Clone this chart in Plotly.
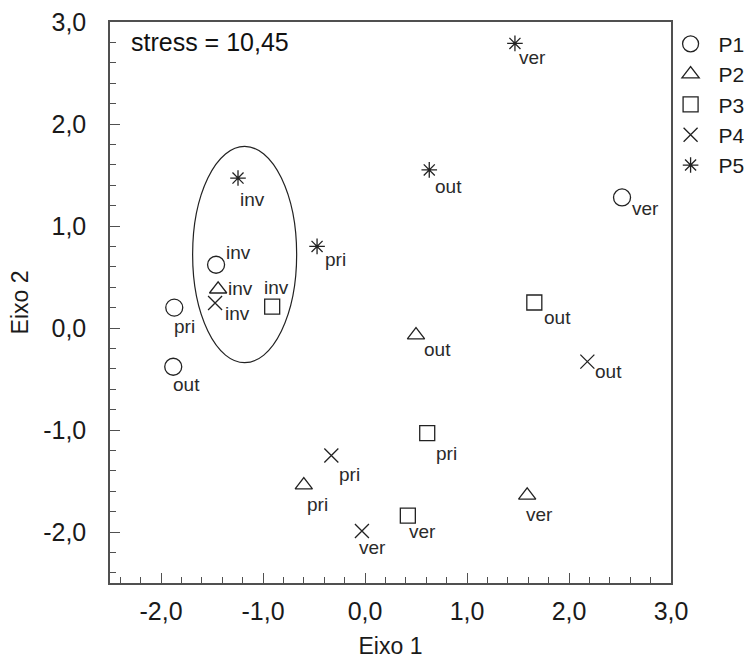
import plotly.graph_objects as go

# ---- data ----
labels = ["inv", "pri", "out", "ver"]
series = ["P1", "P2", "P3", "P4", "P5"]
p1_x = [-1.46, -1.87, -1.88, 2.52]
p1_y = [0.62, 0.20, -0.38, 1.28]
p2_x = [-1.44, -0.60, 0.50, 1.59]
p2_y = [0.38, -1.54, -0.07, -1.64]
p3_x = [-0.91, 0.61, 1.66, 0.42]
p3_y = [0.21, -1.03, 0.25, -1.84]
p4_x = [-1.47, -0.33, 2.18, -0.03]
p4_y = [0.245, -1.25, -0.33, -1.99]
p5_x = [-1.245, -0.47, 0.63, 1.47]
p5_y = [1.47, 0.80, 1.55, 2.79]
stress_text = "stress = 10,45"
x_ticks = [-2.0, -1.0, 0.0, 1.0, 2.0, 3.0]
y_ticks = [-2.0, -1.0, 0.0, 1.0, 2.0, 3.0]
x_ticktext = ["-2,0", "-1,0", "0,0", "1,0", "2,0", "3,0"]
y_ticktext = ["-2,0", "-1,0", "0,0", "1,0", "2,0", "3,0"]

# ---- styles ----
xs = [p1_x, p2_x, p3_x, p4_x, p5_x]
ys = [p1_y, p2_y, p3_y, p4_y, p5_y]
symbols = ["circle-open", "triangle-up-open", "square-open", "x-thin-open", "asterisk-open"]
sizes = [17, 15, 15, 14, 13]
label_offsets = [
    [(22, -12), (10, 19), (13, 18), (23, 11)],
    [(22, -1), (14, 19), (21, 14), (12, 19)],
    [(4, -19), (19, 20), (23, 15), (15, 16)],
    [(22, 10), (18, 19), (21, 10), (11, 17)],
    [(14, 21), (18, 13), (19, 17), (18, 14)],
]
FONT = "Liberation Sans, Arial, sans-serif"
ink = "#222222"

fig = go.Figure()
annotations = []
for i, name in enumerate(series):
    fig.add_trace(go.Scatter(
        x=xs[i], y=ys[i], mode="markers", name=name,
        marker=dict(symbol=symbols[i], size=sizes[i], color=ink,
                    line=dict(color=ink, width=1.3)),
        hoverinfo="skip",
    ))
    for j, lab in enumerate(labels):
        dx, dy = label_offsets[i][j]
        annotations.append(dict(
            x=xs[i][j], y=ys[i][j], xref="x", yref="y", text=lab,
            showarrow=False, xshift=dx, yshift=-dy,
            font=dict(family=FONT, size=19, color="#2a2a2a"),
        ))

annotations.append(dict(
    x=0.034, y=0.964, xref="paper", yref="paper", text=stress_text,
    showarrow=False, xanchor="left", yanchor="middle",
    font=dict(family=FONT, size=25, color="#111"),
))

fig.add_shape(type="circle", xref="x", yref="y",
              x0=-1.69, x1=-0.67, y0=-0.34, y1=1.78,
              line=dict(color="#222", width=1.2))

axis_common = dict(
    range=[-2.5, 3.0], showgrid=False, zeroline=False,
    showline=True, linecolor="#505050", linewidth=1.5, mirror=True,
    ticks="inside", ticklen=10, tickwidth=1.2, tickcolor="#505050",
    tickfont=dict(family=FONT, size=25, color="#1a1a1a"),
    minor=dict(dtick=0.2, ticks="inside", ticklen=6, tickwidth=1, tickcolor="#505050"),
)

fig.update_layout(
    width=753, height=659,
    margin=dict(l=110, r=82, t=22, b=76, autoexpand=False),
    paper_bgcolor="white", plot_bgcolor="white",
    font=dict(family=FONT, color="#222"),
    xaxis=dict(**axis_common, tickvals=x_ticks, ticktext=x_ticktext, ticklabelstandoff=5,
               title=dict(text="Eixo 1", font=dict(family=FONT, size=23, color="#1a1a1a"), standoff=14)),
    yaxis=dict(**axis_common, tickvals=y_ticks, ticktext=y_ticktext, ticklabelstandoff=17,
               title=dict(text="Eixo 2", font=dict(family=FONT, size=23, color="#1a1a1a"), standoff=8)),
    legend=dict(x=0.985, y=0.997, xanchor="left", yanchor="top",
                font=dict(family=FONT, size=21, color="#1a1a1a"),
                itemwidth=46, tracegroupgap=0, bgcolor="rgba(0,0,0,0)"),
    annotations=annotations,
    showlegend=True,
)

fig.write_html("out.html")
